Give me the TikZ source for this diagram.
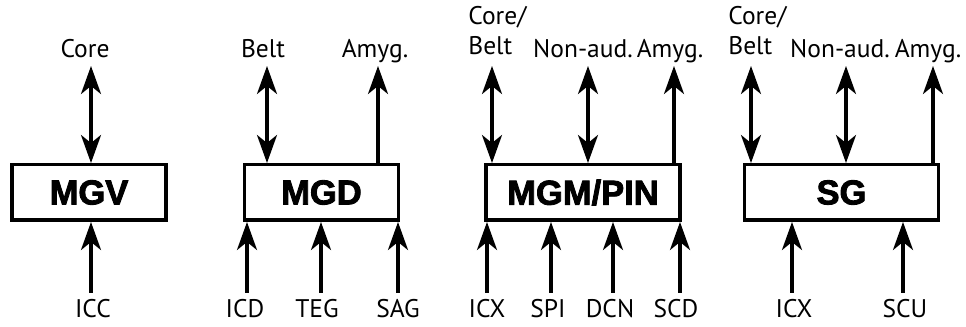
\documentclass[tikz,border=0pt]{standalone}
\usepackage{fontspec}
\setmainfont{PT Sans}
\newfontfamily\boxfont[FakeBold=2.5]{Liberation Sans Bold}
\usetikzlibrary{arrows.meta, positioning}

\begin{document}
\begin{tikzpicture}[
  x=0.5pt, y=0.5pt,
  % Node styles
  area/.style={
    rectangle, draw, line width=1.75pt, fill=white,
    minimum width=77pt, minimum height=27.75pt,
    font=\boxfont\fontsize{17.25}{19}\selectfont
  },
  widearea/.style={area, minimum width=97pt},
  lbl/.style={
    inner sep=0pt, anchor=base,
    font=\fontsize{12.75}{15}\selectfont
  },
  twolbl/.style={lbl, align=left, anchor=south west},
  % Arrow styles
  arr/.style={-{Stealth[length=14pt, width=10pt, inset=4pt]}, line width=1.6pt},
  dbl/.style={{Stealth[length=14pt, width=10pt, inset=4pt]}-{Stealth[length=14pt, width=10pt, inset=4pt]}, line width=1.6pt},
  node distance=37.5pt
]
\useasboundingbox (0,0) rectangle (966,327);

%% ── Boxes ────────────────────────────────────────────────────
\node[area]                        (mgv) at (89,134.5) {MGV};
\node[area,     right=of mgv]      (mgd) {MGD};
\node[widearea, right=42pt of mgd] (mgm) {MGM/PIN};
\node[widearea, right=30.5pt of mgm] (sg) {SG};

%% ── Free arrow ends (top) ────────────────────────────────────
\coordinate (mgvCore)   at (91,261);
\coordinate (mgdBelt)   at (267,261);
\coordinate (mgdAmyg)   at (378,261);
\coordinate (mgmBelt)   at (492,261);
\coordinate (mgmNon)    at (588,261);
\coordinate (mgmAmyg)   at (674,261);
\coordinate (sgBelt)    at (751,261);
\coordinate (sgNon)     at (846,261);
\coordinate (sgAmyg)    at (933,261);

%% ── Free arrow ends (bottom) ─────────────────────────────────
\coordinate (mgvIcc)    at (91,34);
\coordinate (mgdIcd)    at (247,34);
\coordinate (mgdTeg)    at (321,34);
\coordinate (mgdSag)    at (398,34);
\coordinate (mgmIcx)    at (487,34);
\coordinate (mgmSpi)    at (551,34);
\coordinate (mgmDcn)    at (613,34);
\coordinate (mgmScd)    at (680,34);
\coordinate (sgIcx)     at (792,34);
\coordinate (sgScu)     at (903,34);

%% ── Top labels ───────────────────────────────────────────────
\node[lbl]    (mgvCoreL) at ([xshift=-3pt, yshift=4pt]mgvCore) {Core};
\node[lbl]    (mgdBeltL) at ([xshift=-2pt, yshift=4pt]mgdBelt) {Belt};
\node[lbl]    (mgdAmygL) at ([xshift=-1.5pt, yshift=4pt]mgdAmyg) {Amyg.};
\node[twolbl] (mgmBeltL) at ([xshift=-12pt, yshift=5.5pt]mgmBelt) {Core/\\Belt};
\node[lbl]    (mgmNonL)  at ([xshift=-2.5pt, yshift=4pt]mgmNon) {Non-aud.};
\node[lbl]    (mgmAmygL) at ([xshift=-2pt, yshift=4pt]mgmAmyg) {Amyg.};
\node[twolbl] (sgBeltL)  at ([xshift=-11.5pt, yshift=5.5pt]sgBelt) {Core/\\Belt};
\node[lbl]    (sgNonL)   at ([xshift=-3pt, yshift=4pt]sgNon) {Non-aud.};
\node[lbl]    (sgAmygL)  at ([xshift=-2.5pt, yshift=4pt]sgAmyg) {Amyg.};

%% ── Bottom labels ────────────────────────────────────────────
\node[lbl] (mgvIccL) at ([xshift=1pt, yshift=-12.5pt]mgvIcc) {ICC};
\node[lbl] (mgdIcdL) at ([xshift=-1pt, yshift=-12.5pt]mgdIcd) {ICD};
\node[lbl] (mgdTegL) at ([xshift=-2pt, yshift=-12.5pt]mgdTeg) {TEG};
\node[lbl] (mgdSagL) at ([yshift=-12.5pt]mgdSag) {SAG};
\node[lbl] (mgmIcxL) at ([yshift=-12.5pt]mgmIcx) {ICX};
\node[lbl] (mgmSpiL) at ([xshift=-1.5pt, yshift=-12.5pt]mgmSpi) {SPI};
\node[lbl] (mgmDcnL) at ([xshift=-1.5pt, yshift=-12.5pt]mgmDcn) {DCN};
\node[lbl] (mgmScdL) at ([xshift=-2pt, yshift=-12.5pt]mgmScd) {SCD};
\node[lbl] (sgIcxL)  at ([xshift=1pt, yshift=-12.5pt]sgIcx) {ICX};
\node[lbl] (sgScuL)  at ([xshift=1pt, yshift=-12.5pt]sgScu) {SCU};

%% ── Arrows: boxes ↔ / → targets above ───────────────────────
\draw[dbl] (mgv.north -| mgvCore) -- (mgvCore);
\draw[dbl] (mgd.north -| mgdBelt) -- (mgdBelt);
\draw[arr] (mgd.north -| mgdAmyg) -- (mgdAmyg);
\draw[dbl] (mgm.north -| mgmBelt) -- (mgmBelt);
\draw[dbl] (mgm.north -| mgmNon)  -- (mgmNon);
\draw[arr] (mgm.north -| mgmAmyg) -- (mgmAmyg);
\draw[dbl] (sg.north -| sgBelt)   -- (sgBelt);
\draw[dbl] (sg.north -| sgNon)    -- (sgNon);
\draw[arr] (sg.north -| sgAmyg)   -- (sgAmyg);

%% ── Arrows: inputs from below → boxes ────────────────────────
\draw[arr] (mgvIcc) -- (mgv.south -| mgvIcc);
\draw[arr] (mgdIcd) -- (mgd.south -| mgdIcd);
\draw[arr] (mgdTeg) -- (mgd.south -| mgdTeg);
\draw[arr] (mgdSag) -- (mgd.south -| mgdSag);
\draw[arr] (mgmIcx) -- (mgm.south -| mgmIcx);
\draw[arr] (mgmSpi) -- (mgm.south -| mgmSpi);
\draw[arr] (mgmDcn) -- (mgm.south -| mgmDcn);
\draw[arr] (mgmScd) -- (mgm.south -| mgmScd);
\draw[arr] (sgIcx)  -- (sg.south -| sgIcx);
\draw[arr] (sgScu)  -- (sg.south -| sgScu);

\end{tikzpicture}
\end{document}
